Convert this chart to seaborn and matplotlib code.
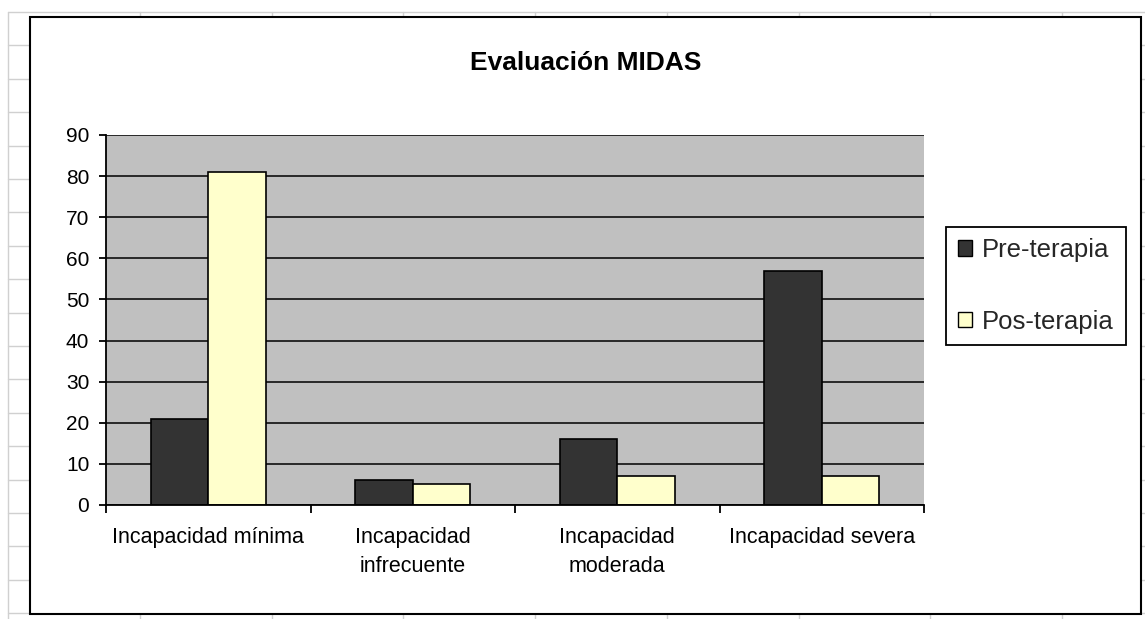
import numpy as np
import pandas as pd
import matplotlib
matplotlib.use('AGG')
from matplotlib import pyplot as plt
from matplotlib.lines import Line2D
from matplotlib.patches import Rectangle, Patch
import seaborn as sns

# Data
categorias = ['Incapacidad mínima', 'Incapacidad\ninfrecuente',
              'Incapacidad\nmoderada', 'Incapacidad severa']
pre_terapia = [21, 6, 16, 57]
pos_terapia = [81, 5, 7, 7]
series = ['Pre-terapia', 'Pos-terapia']
colores = ['#333333', '#FFFFCC']

df = pd.DataFrame({
    'categoria': categorias * 2,
    'valor': pre_terapia + pos_terapia,
    'serie': [series[0]] * 4 + [series[1]] * 4,
})

sns.set_theme(style='white')
plt.rcParams['font.family'] = ['Liberation Sans', 'DejaVu Sans']

W, H = 1145, 619
fig = plt.figure(figsize=(W / 100, H / 100), dpi=100)
fig.patch.set_facecolor('white')

# Spreadsheet cells behind the chart
for y in np.arange(12, H, 33.4):
    fig.add_artist(Line2D([8 / W, 1], [1 - y / H] * 2, color='#d0d0d0', lw=1, zorder=0))
for x in np.arange(8, W, 131.75):
    fig.add_artist(Line2D([x / W] * 2, [0, 1 - 12 / H], color='#d0d0d0', lw=1, zorder=0))

# Chart area box
fig.add_artist(Rectangle((30 / W, 1 - 614 / H), (1141 - 30) / W, (614 - 17) / H,
                         facecolor='white', edgecolor='black', lw=1.5, zorder=1))

left, bottom = 106 / W, 1 - 505 / H
ax = fig.add_axes([left, bottom, (924 - 106) / W, (505 - 135) / H])
ax.set_zorder(2)
ax.set_facecolor('#C0C0C0')

sns.barplot(data=df, x='categoria', y='valor', hue='serie', palette=colores,
            width=0.56, gap=0, saturation=1, edgecolor='black', linewidth=1.2,
            legend=False, ax=ax)

ax.set_xlim(-0.5, 3.5)
ax.set_ylim(0, 90)
ax.set_yticks(range(0, 91, 10))
ax.yaxis.grid(True, color='black', lw=1.1)
ax.set_axisbelow(True)
ax.set_xlabel('')
ax.set_ylabel('')

for s in ['top', 'right']:
    ax.spines[s].set_visible(False)
for s in ['left', 'bottom']:
    ax.spines[s].set_color('black')
    ax.spines[s].set_linewidth(1.3)

ax.tick_params(axis='y', which='major', left=True, length=5, width=1.3,
               color='black', pad=7, labelsize=15, labelcolor='black')
ax.set_xticks(range(4))
ax.set_xticklabels(categorias, linespacing=1.5)
ax.tick_params(axis='x', which='major', bottom=False, length=0, pad=16,
               labelsize=15.5, labelcolor='black')
ax.set_xticks(np.arange(-0.5, 4, 1), minor=True)
ax.tick_params(axis='x', which='minor', bottom=True, length=6, width=1.3,
               color='black')

fig.text(586 / W, 1 - 63 / H, 'Evaluación MIDAS', ha='center', va='center',
         fontsize=19, fontweight='bold', color='black')

handles = [Patch(facecolor=c, edgecolor='black', lw=1) for c in colores]
leg = fig.legend(handles, series, loc='center',
                 bbox_to_anchor=(1036 / W, 1 - 286 / H),
                 frameon=True, fancybox=False, framealpha=1, fontsize=18.5,
                 handlelength=0.55, handleheight=0.55, handletextpad=0.4,
                 labelspacing=1.85, borderpad=0.45, borderaxespad=0)
leg.get_frame().set_edgecolor('black')
leg.get_frame().set_linewidth(1.3)
leg.set_zorder(3)

plt.savefig('out.png', dpi=100)
